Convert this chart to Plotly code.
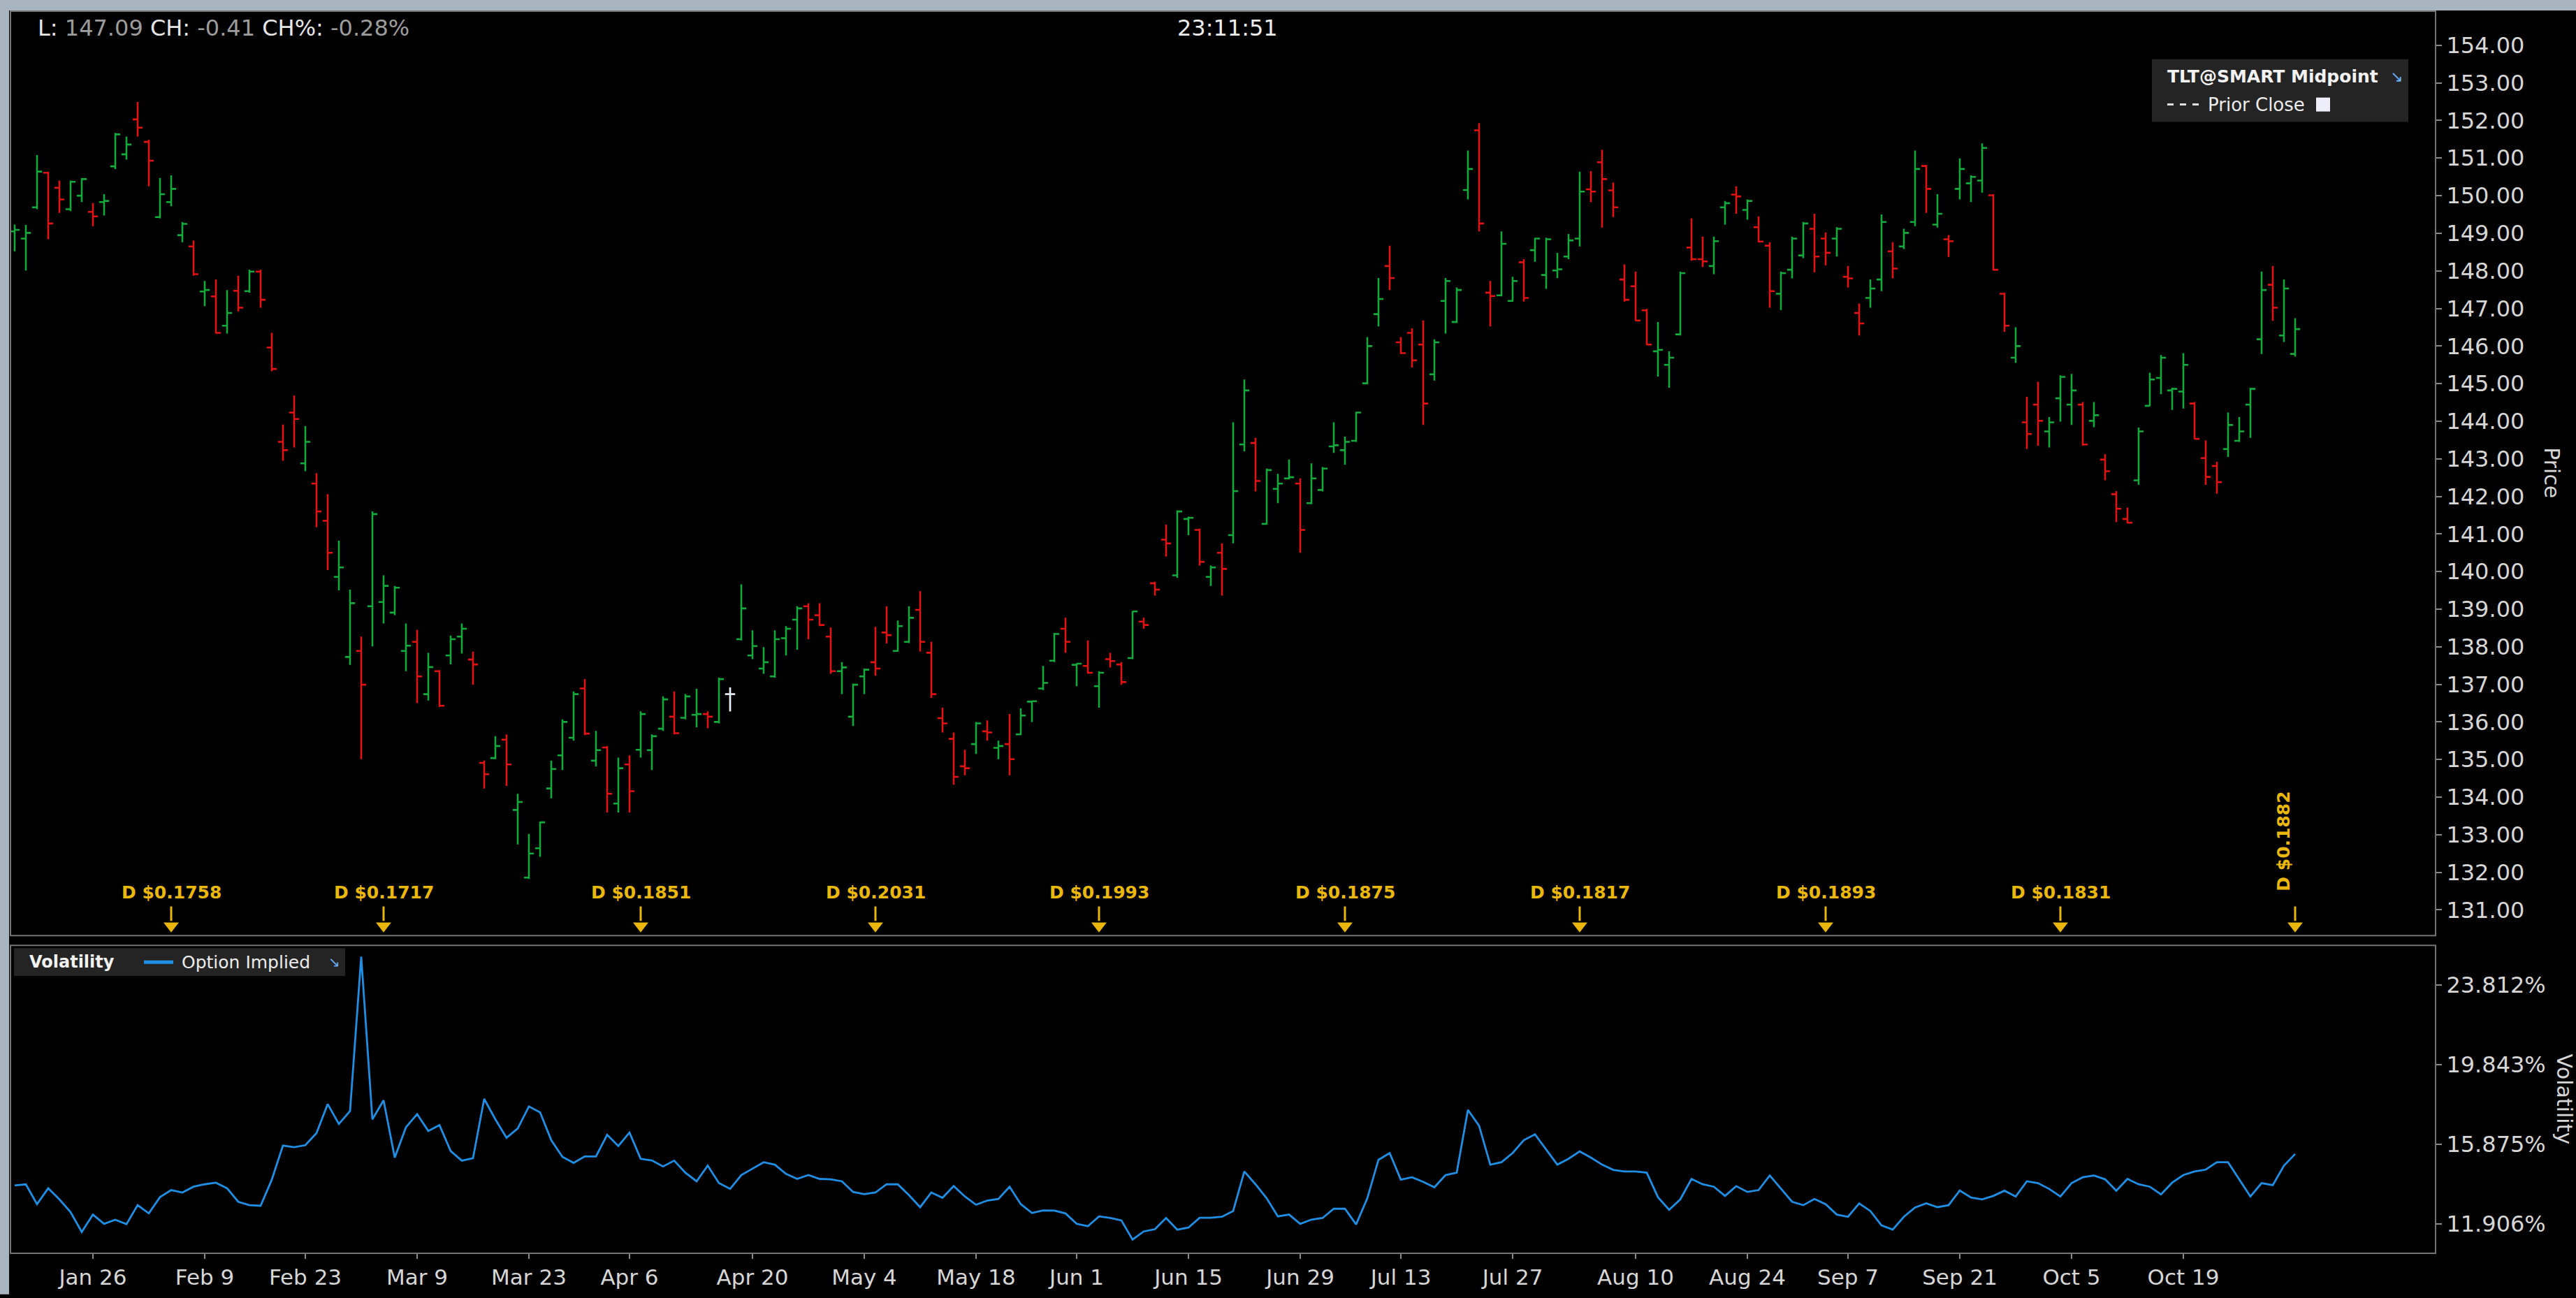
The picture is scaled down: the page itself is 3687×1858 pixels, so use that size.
import plotly.graph_objects as go

# ---------------- data ----------------
open_ = [149.05, 148.86, 149.69, 150.61, 150.21, 149.64, 150.00, 149.57, 149.83, 150.78,
         151.10, 152.03, 151.43, 149.43, 149.83, 148.95, 148.65, 147.45, 147.32, 146.54,
         147.47, 147.46, 147.98, 145.96, 143.45, 144.23, 142.88, 142.34, 141.35, 139.86,
         137.73, 137.89, 139.08, 139.19, 138.91, 137.89, 138.13, 136.74, 137.35, 137.77,
         138.27, 137.66, 134.91, 135.04, 135.53, 133.66, 131.86, 132.64, 134.23, 135.11,
         135.58, 136.89, 134.97, 135.32, 133.83, 134.87, 135.26, 135.25, 135.82, 136.14,
         136.11, 136.19, 136.21, 136.00, 136.74, 138.20, 137.77, 137.42, 137.21, 138.23,
         138.72, 139.08, 138.84, 138.27, 137.35, 136.14, 137.21, 137.59, 138.38, 137.89,
         138.13, 138.98, 137.84, 136.10, 135.55, 134.82, 135.41, 135.75, 135.31, 135.41,
         135.67, 136.54, 136.89, 137.63, 138.48, 137.52, 137.49, 136.95, 137.67, 137.53,
         137.70, 138.67, 139.69, 140.85, 139.90, 141.40, 141.11, 139.86, 140.50, 140.97,
         143.38, 143.42, 141.27, 142.20, 142.48, 142.34, 141.82, 142.17, 143.33, 143.23,
         143.48, 145.01, 146.85, 148.13, 146.10, 146.35, 146.04, 145.25, 147.20, 146.64,
         150.15, 151.74, 147.42, 147.35, 147.20, 148.23, 148.55, 147.89, 148.01, 148.38,
         148.86, 150.17, 150.89, 150.14, 147.77, 147.59, 146.95, 145.86, 145.50, 146.31,
         148.62, 148.31, 148.13, 149.69, 150.03, 149.62, 149.16, 148.67, 147.39, 148.03,
         148.41, 149.12, 148.86, 148.86, 147.84, 146.88, 147.28, 147.77, 148.52, 148.65,
         149.30, 150.79, 149.23, 148.84, 150.18, 150.33, 150.40, 150.01, 147.39, 145.69,
         143.97, 144.44, 143.73, 144.61, 144.44, 144.44, 144.01, 142.98, 142.06, 141.40,
         142.43, 144.41, 145.15, 144.82, 144.79, 144.47, 143.02, 142.81, 143.26, 143.48,
         144.44, 146.18, 147.63, 146.28, 145.79]

high = [149.23, 149.22, 151.08, 150.64, 150.40, 150.40, 150.47, 149.80, 150.04, 151.67,
        151.57, 152.49, 151.49, 150.47, 150.54, 149.30, 148.81, 147.73, 147.77, 147.49,
        147.87, 148.03, 148.03, 146.35, 143.91, 144.68, 143.87, 142.62, 142.06, 140.82,
        139.52, 138.27, 141.60, 139.90, 139.62, 138.62, 138.45, 137.84, 137.38, 138.30,
        138.62, 137.87, 134.97, 135.62, 135.67, 134.09, 133.02, 133.35, 134.97, 136.07,
        136.81, 137.14, 135.76, 135.36, 135.05, 135.11, 136.28, 135.67, 136.68, 136.81,
        136.74, 136.88, 136.28, 137.18, 136.92, 139.66, 138.44, 137.99, 138.44, 138.55,
        139.08, 139.16, 139.16, 138.51, 137.59, 137.02, 137.42, 138.53, 139.08, 138.70,
        139.08, 139.48, 138.13, 136.38, 135.72, 135.26, 136.00, 136.04, 135.50, 136.21,
        136.36, 136.57, 137.49, 138.37, 138.77, 137.56, 138.17, 137.35, 137.84, 137.59,
        138.95, 138.77, 139.73, 141.25, 141.63, 141.46, 141.14, 140.16, 140.75, 143.97,
        145.11, 143.56, 142.74, 142.60, 142.98, 142.48, 142.88, 142.78, 143.97, 143.59,
        144.25, 146.24, 147.81, 148.67, 146.24, 146.47, 146.68, 146.18, 147.81, 147.56,
        151.20, 151.93, 147.73, 149.05, 147.84, 148.31, 148.88, 148.88, 148.48, 148.98,
        150.64, 150.65, 151.22, 150.35, 148.17, 147.98, 146.99, 146.64, 145.86, 147.98,
        149.40, 148.91, 148.91, 149.86, 150.25, 149.90, 149.45, 148.76, 147.98, 148.91,
        149.30, 149.52, 149.02, 149.16, 148.13, 147.13, 147.77, 149.50, 148.76, 149.12,
        151.20, 150.82, 150.04, 148.95, 150.99, 150.54, 151.39, 150.04, 147.42, 146.50,
        144.65, 145.05, 144.11, 145.22, 145.26, 144.51, 144.51, 143.12, 142.14, 141.70,
        143.83, 145.29, 145.76, 144.89, 145.81, 144.51, 143.49, 142.92, 144.23, 144.11,
        144.89, 147.98, 148.13, 147.77, 146.74]

low = [148.52, 148.01, 149.64, 148.84, 149.54, 149.59, 149.83, 149.19, 149.47, 150.71,
       150.96, 151.57, 150.25, 149.40, 149.72, 148.76, 147.87, 147.06, 146.33, 146.33,
       146.92, 147.42, 147.02, 145.33, 142.95, 143.30, 142.67, 141.18, 140.04, 139.50,
       137.52, 135.01, 138.01, 138.62, 138.84, 137.35, 136.50, 136.57, 136.40, 137.53,
       137.82, 136.99, 134.23, 135.01, 134.30, 132.74, 131.82, 132.41, 133.97, 134.72,
       135.50, 135.65, 134.82, 133.59, 133.59, 133.59, 135.05, 134.72, 135.76, 135.67,
       136.07, 135.86, 135.83, 135.96, 136.28, 138.17, 137.67, 137.28, 137.18, 137.77,
       137.92, 138.20, 138.55, 137.28, 136.74, 135.89, 136.74, 137.23, 138.09, 137.87,
       138.10, 137.87, 136.64, 135.72, 134.33, 134.58, 135.15, 135.50, 135.01, 134.58,
       135.65, 136.00, 136.85, 137.59, 137.84, 136.95, 137.28, 136.38, 137.45, 136.99,
       137.67, 138.48, 139.36, 140.40, 139.83, 140.97, 140.16, 139.62, 139.36, 140.75,
       143.20, 142.13, 141.25, 141.82, 142.45, 140.50, 141.79, 142.13, 143.16, 142.84,
       143.45, 144.98, 146.52, 147.49, 145.79, 145.43, 143.90, 145.08, 146.33, 146.61,
       149.90, 149.05, 146.52, 147.32, 147.18, 147.18, 148.24, 147.52, 147.81, 148.31,
       148.65, 149.83, 149.15, 149.43, 147.18, 146.67, 146.03, 145.19, 144.89, 146.28,
       148.27, 148.10, 147.91, 149.23, 149.52, 149.36, 148.76, 147.02, 146.96, 147.80,
       148.34, 147.96, 148.15, 148.38, 147.56, 146.28, 147.02, 147.46, 147.80, 148.58,
       149.19, 149.54, 149.15, 148.37, 149.90, 149.83, 150.08, 148.01, 146.38, 145.55,
       143.26, 143.35, 143.30, 143.99, 143.90, 143.35, 143.84, 142.43, 141.32, 141.28,
       142.31, 144.40, 144.72, 144.30, 144.34, 143.52, 142.31, 142.07, 143.05, 143.45,
       143.56, 145.79, 146.67, 146.11, 145.72]

close = [149.09, 149.01, 150.64, 149.26, 149.90, 150.37, 150.44, 149.45, 149.86, 151.63,
         151.36, 151.81, 150.93, 150.04, 150.18, 149.25, 147.91, 147.49, 146.35, 146.88,
         147.02, 147.98, 147.23, 145.39, 143.23, 144.06, 143.45, 141.60, 140.50, 140.11,
         139.16, 136.99, 141.53, 139.62, 139.57, 138.03, 137.21, 137.46, 136.43, 138.20,
         138.48, 137.53, 134.61, 135.36, 134.87, 133.87, 132.50, 133.33, 134.75, 136.00,
         136.74, 135.69, 135.25, 134.09, 134.77, 134.16, 136.21, 135.62, 136.60, 135.70,
         136.68, 136.21, 136.14, 137.14, 136.74, 139.02, 138.02, 137.59, 138.20, 138.48,
         139.02, 138.72, 138.58, 137.35, 137.45, 136.99, 137.39, 137.42, 138.31, 138.55,
         138.77, 138.13, 136.74, 135.96, 134.54, 134.77, 135.96, 135.72, 135.36, 135.01,
         136.17, 136.55, 137.04, 138.34, 138.13, 137.55, 137.31, 137.31, 137.62, 137.06,
         138.94, 138.58, 139.52, 140.75, 141.60, 141.43, 140.26, 140.11, 140.07, 142.14,
         144.82, 142.41, 142.70, 142.34, 142.51, 141.11, 142.48, 142.74, 143.36, 143.45,
         144.23, 146.00, 147.25, 147.81, 145.81, 145.62, 144.47, 146.10, 147.73, 147.49,
         150.71, 149.26, 147.33, 148.72, 147.73, 147.28, 148.86, 148.84, 148.04, 148.81,
         150.11, 150.11, 150.44, 149.69, 147.23, 146.68, 146.04, 145.90, 145.69, 147.94,
         148.31, 148.25, 148.79, 149.80, 149.98, 149.86, 148.78, 147.46, 147.94, 148.86,
         149.26, 148.38, 148.48, 149.12, 147.80, 146.60, 147.53, 149.30, 148.06, 149.01,
         150.71, 150.18, 149.52, 148.79, 150.71, 150.50, 151.27, 148.03, 146.54, 146.00,
         143.66, 144.01, 143.97, 145.18, 144.82, 143.38, 144.16, 142.67, 141.67, 141.30,
         143.73, 145.11, 145.69, 144.86, 145.50, 143.53, 142.52, 142.38, 143.90, 143.73,
         144.86, 147.49, 147.02, 147.53, 146.45]

implied_vol = [13.81, 13.87, 12.88, 13.67, 13.12, 12.48, 11.49, 12.36, 11.90, 12.10,
               11.88, 12.83, 12.42, 13.23, 13.58, 13.46, 13.75, 13.87, 13.95, 13.67,
               13.00, 12.83, 12.80, 14.10, 15.80, 15.72, 15.82, 16.42, 17.87, 16.88,
               17.52, 25.22, 17.11, 18.06, 15.20, 16.71, 17.37, 16.53, 16.82, 15.53,
               15.05, 15.17, 18.13, 17.11, 16.19, 16.65, 17.75, 17.46, 16.07, 15.24,
               14.94, 15.26, 15.26, 16.34, 15.78, 16.45, 15.14, 15.06, 14.76, 15.05,
               14.45, 14.02, 14.80, 13.93, 13.64, 14.33, 14.65, 14.97, 14.85, 14.39,
               14.14, 14.33, 14.14, 14.12, 14.02, 13.49, 13.38, 13.46, 13.87, 13.87,
               13.33, 12.73, 13.46, 13.20, 13.78, 13.26, 12.85, 13.06, 13.14, 13.75,
               12.88, 12.44, 12.57, 12.56, 12.42, 11.90, 11.78, 12.27, 12.19, 12.07,
               11.11, 11.52, 11.63, 12.19, 11.61, 11.71, 12.20, 12.20, 12.25, 12.54,
               14.51, 13.87, 13.17, 12.27, 12.36, 11.90, 12.11, 12.19, 12.65, 12.65,
               11.87, 13.17, 15.09, 15.43, 14.10, 14.22, 13.99, 13.72, 14.33, 14.45,
               17.58, 16.79, 14.85, 14.97, 15.43, 16.07, 16.36, 15.61, 14.85, 15.14,
               15.51, 15.20, 14.85, 14.59, 14.51, 14.51, 14.45, 13.23, 12.60, 13.12,
               14.14, 13.87, 13.75, 13.29, 13.78, 13.49, 13.58, 14.31, 13.64, 13.00,
               12.83, 13.14, 12.88, 12.36, 12.25, 12.92, 12.54, 11.82, 11.61, 12.25,
               12.71, 12.92, 12.73, 12.83, 13.56, 13.21, 13.12, 13.29, 13.55, 13.26,
               14.02, 13.93, 13.64, 13.26, 13.93, 14.22, 14.31, 14.12, 13.55, 14.14,
               13.87, 13.75, 13.37, 13.95, 14.33, 14.51, 14.60, 14.97, 14.97, 14.10,
               13.26, 13.93, 13.83, 14.80, 15.38]

date_tick_bars = [7, 17, 26, 36, 46, 55, 66, 76, 86, 95, 105, 115, 124, 134, 145, 155, 164, 174, 184, 194]
date_tick_labels = ["Jan 26", "Feb 9", "Feb 23", "Mar 9", "Mar 23", "Apr 6", "Apr 20", "May 4",
                    "May 18", "Jun 1", "Jun 15", "Jun 29", "Jul 13", "Jul 27", "Aug 10", "Aug 24",
                    "Sep 7", "Sep 21", "Oct 5", "Oct 19"]

dividend_bars = [14, 33, 56, 77, 97, 119, 140, 162, 183, 204]
dividend_amounts = ["0.1758", "0.1717", "0.1851", "0.2031", "0.1993", "0.1875",
                    "0.1817", "0.1893", "0.1831", "0.1882"]

vol_tick_values = [11.906, 15.875, 19.843, 23.812]
vol_tick_labels = ["11.906%", "15.875%", "19.843%", "23.812%"]

highlight_bar = 64
header_fields = [("L:", "147.09"), ("CH:", "-0.41"), ("CH%:", "-0.28%")]
clock_text = "23:11:51"

# ---------------- geometry / styles ----------------
W, H = 3687, 1858
PL, PR, PT, PB = 15, 3486, 16, 1799          # plot area in pixels
PRICE_BOT_PX, VOL_TOP_PX = 1343, 1357
BAR0_PX, BAR_STEP = 21.0, 16.0


def price_at(py):
    return 154 - (py - 65) / 53.96


def vol_at(py):
    return 11.906 + (1756.5 - py) * (3.969 / 114.25)


def px_x(px):
    return (px - PL) / (PR - PL)


def px_y(py):
    return (PB - py) / (PB - PT)


FONT = "DejaVu Sans"
GREEN = "#13a93c"
RED = "#e01212"
GOLD = "#eab80c"
TXT = "#d6d6d6"
BORDER = "#747474"

n = len(open_)
xs = list(range(n))

fig = go.Figure()

fig.add_trace(go.Ohlc(
    x=xs, open=open_, high=high, low=low, close=close,
    increasing=dict(line=dict(color=GREEN, width=2.6)),
    decreasing=dict(line=dict(color=RED, width=2.6)),
    tickwidth=0.45, xaxis="x", yaxis="y", hoverinfo="skip", showlegend=False))

# highlighted (cursor) bar drawn in white
hb = highlight_bar
fig.add_trace(go.Scatter(
    x=[hb, hb, None, hb - 0.45, hb, None, hb, hb + 0.45],
    y=[low[hb], high[hb], None, open_[hb], open_[hb], None, close[hb], close[hb]],
    mode="lines", line=dict(color="#d8f4ff", width=2.6),
    xaxis="x", yaxis="y", hoverinfo="skip", showlegend=False))

# dividend arrows
stem_x, stem_y = [], []
for d in dividend_bars:
    stem_x += [d, d, None]
    stem_y += [price_at(1301), price_at(1322), None]
fig.add_trace(go.Scatter(x=stem_x, y=stem_y, mode="lines",
                         line=dict(color=GOLD, width=3), xaxis="x", yaxis="y",
                         hoverinfo="skip", showlegend=False, cliponaxis=False))
fig.add_trace(go.Scatter(x=dividend_bars, y=[price_at(1329)] * len(dividend_bars),
                         mode="markers",
                         marker=dict(symbol="triangle-down", size=19, color=GOLD,
                                     line=dict(width=0)),
                         xaxis="x", yaxis="y", hoverinfo="skip", showlegend=False,
                         cliponaxis=False))

# volatility line
fig.add_trace(go.Scatter(x=xs, y=implied_vol, mode="lines",
                         line=dict(color="#1f8fe6", width=2.8),
                         xaxis="x", yaxis="y2", hoverinfo="skip", showlegend=False))

annotations = []
# header
hdr = " ".join('<span style="color:#e6e6e6">%s</span> <span style="color:#9c9c9c">%s</span>' % (a, b)
               for a, b in header_fields)
annotations.append(dict(xref="paper", yref="paper", x=px_x(52), y=px_y(40), text=hdr,
                        showarrow=False, xanchor="left", yanchor="middle",
                        font=dict(family=FONT, size=32)))
annotations.append(dict(xref="paper", yref="paper", x=px_x(1757), y=px_y(40), text=clock_text,
                        showarrow=False, xanchor="center", yanchor="middle",
                        font=dict(family=FONT, size=32, color="#ececec")))

# dividend labels
for k, (d, amt) in enumerate(zip(dividend_bars, dividend_amounts)):
    if k < len(dividend_bars) - 1:
        annotations.append(dict(xref="x", yref="y", x=d, y=price_at(1281),
                                text="<b>D $%s</b>" % amt, showarrow=False,
                                xanchor="center", yanchor="middle",
                                font=dict(family=FONT, size=25, color=GOLD)))
    else:
        annotations.append(dict(xref="x", yref="y", x=d, y=price_at(1208),
                                text="<b>D $%s</b>" % amt, showarrow=False, textangle=-90,
                                xanchor="center", yanchor="middle", xshift=-16,
                                font=dict(family=FONT, size=25, color=GOLD)))

# axis titles
annotations.append(dict(xref="paper", yref="paper", x=px_x(3653), y=px_y(678), text="Price",
                        showarrow=False, textangle=90, xanchor="center", yanchor="middle",
                        font=dict(family=FONT, size=30, color=TXT)))
annotations.append(dict(xref="paper", yref="paper", x=px_x(3670), y=px_y(1578), text="Volatility",
                        showarrow=False, textangle=90, xanchor="center", yanchor="middle",
                        font=dict(family=FONT, size=30, color=TXT)))

# legends
annotations.append(dict(xref="paper", yref="paper", x=px_x(3100), y=px_y(110),
                        text="<b>TLT@SMART Midpoint</b>", showarrow=False,
                        xanchor="left", yanchor="middle",
                        font=dict(family=FONT, size=25, color="#f2f2f2")))
annotations.append(dict(xref="paper", yref="paper", x=px_x(3430), y=px_y(110),
                        text="↘", showarrow=False, xanchor="center", yanchor="middle",
                        font=dict(family=FONT, size=22, color="#6aaef5")))
annotations.append(dict(xref="paper", yref="paper", x=px_x(3158), y=px_y(150),
                        text="Prior Close", showarrow=False, xanchor="left", yanchor="middle",
                        font=dict(family=FONT, size=26, color="#ececec")))
annotations.append(dict(xref="paper", yref="paper", x=px_x(40), y=px_y(1381),
                        text="<b>Volatility</b>", showarrow=False, xanchor="left", yanchor="middle",
                        font=dict(family=FONT, size=24, color="#f2f2f2")))
annotations.append(dict(xref="paper", yref="paper", x=px_x(258), y=px_y(1381),
                        text="Option Implied", showarrow=False, xanchor="left", yanchor="middle",
                        font=dict(family=FONT, size=25, color="#ececec")))
annotations.append(dict(xref="paper", yref="paper", x=px_x(478), y=px_y(1381),
                        text="↘", showarrow=False, xanchor="center", yanchor="middle",
                        font=dict(family=FONT, size=20, color="#6aaef5")))

shapes = [
    # light frame strips (top and left)
    dict(type="rect", xref="paper", yref="paper", x0=px_x(0), x1=px_x(W), y0=px_y(15), y1=px_y(0),
         fillcolor="#a9b4c1", line=dict(width=0), layer="below"),
    dict(type="rect", xref="paper", yref="paper", x0=px_x(0), x1=px_x(13), y0=px_y(H), y1=px_y(0),
         fillcolor="#a9b4c1", line=dict(width=0), layer="below"),
    # panel frames
    dict(type="rect", xref="paper", yref="paper", x0=0, x1=1, y0=px_y(PRICE_BOT_PX), y1=1,
         line=dict(color=BORDER, width=2), fillcolor="rgba(0,0,0,0)"),
    dict(type="rect", xref="paper", yref="paper", x0=0, x1=1, y0=0, y1=px_y(VOL_TOP_PX),
         line=dict(color=BORDER, width=2), fillcolor="rgba(0,0,0,0)"),
    # legend boxes
    dict(type="rect", xref="paper", yref="paper", x0=px_x(3080), x1=px_x(3447),
         y0=px_y(175), y1=px_y(85), fillcolor="#242424", line=dict(width=0)),
    dict(type="line", xref="paper", yref="paper", x0=px_x(3102), x1=px_x(3148),
         y0=px_y(150), y1=px_y(150), line=dict(color="#e0e0e0", width=3, dash="dash")),
    dict(type="rect", xref="paper", yref="paper", x0=px_x(3315), x1=px_x(3335),
         y0=px_y(160), y1=px_y(140), fillcolor="#eeeefa", line=dict(width=0)),
    dict(type="rect", xref="paper", yref="paper", x0=px_x(20), x1=px_x(494),
         y0=px_y(1401), y1=px_y(1361), fillcolor="#242424", line=dict(width=0)),
    dict(type="line", xref="paper", yref="paper", x0=px_x(206), x1=px_x(248),
         y0=px_y(1381), y1=px_y(1381), line=dict(color="#1f8fe6", width=5)),
]

x_range = [(PL - BAR0_PX) / BAR_STEP, (PR - BAR0_PX) / BAR_STEP]

fig.update_layout(
    width=W, height=H,
    margin=dict(l=PL, r=W - PR, t=PT, b=H - PB, pad=0),
    paper_bgcolor="#000000", plot_bgcolor="#000000",
    font=dict(family=FONT, color=TXT),
    showlegend=False, hovermode=False,
    xaxis=dict(anchor="y2", range=x_range, showgrid=False, zeroline=False, showline=False,
               tickmode="array", tickvals=date_tick_bars, ticktext=date_tick_labels,
               ticks="outside", ticklen=7, tickwidth=2, tickcolor="#8a8a8a",
               tickfont=dict(family=FONT, size=31, color=TXT),
               rangeslider=dict(visible=False)),
    yaxis=dict(domain=[px_y(PRICE_BOT_PX), 1], side="right", anchor="x",
               range=[price_at(PRICE_BOT_PX), price_at(PT)],
               tickmode="linear", tick0=131, dtick=1, tickformat=".2f",
               ticks="outside", ticklen=8, tickwidth=2, tickcolor="#8a8a8a",
               showgrid=False, zeroline=False, showline=False,
               tickfont=dict(family=FONT, size=32, color=TXT)),
    yaxis2=dict(domain=[0, px_y(VOL_TOP_PX)], side="right", anchor="x",
                range=[vol_at(PB), vol_at(VOL_TOP_PX)],
                tickmode="array", tickvals=vol_tick_values, ticktext=vol_tick_labels,
                ticks="outside", ticklen=8, tickwidth=2, tickcolor="#8a8a8a",
                showgrid=False, zeroline=False, showline=False,
                tickfont=dict(family=FONT, size=32, color=TXT)),
    annotations=annotations,
    shapes=shapes,
)

fig.write_html("out.html", config={"displayModeBar": False},
               post_script="document.body.style.margin='0';document.body.style.overflow='hidden';document.body.style.background='#000';")
